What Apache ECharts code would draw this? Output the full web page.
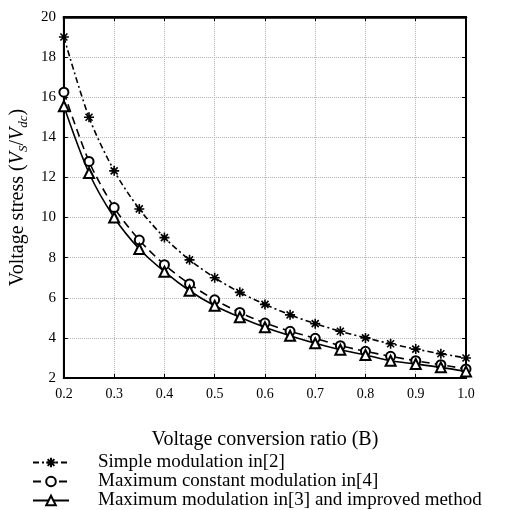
<!DOCTYPE html>
<html>
<head>
<meta charset="utf-8">
<script src="https://cdn.jsdelivr.net/npm/echarts@6/dist/echarts.min.js"></script>
<style>
html,body{margin:0;padding:0;background:#fff;}
#c{width:513px;height:510px;}
</style>
</head>
<body>
<div id="c"></div>
<script>
// Data
const xValues = [0.2, 0.25, 0.3, 0.35, 0.4, 0.45, 0.5, 0.55, 0.6, 0.65, 0.7, 0.75, 0.8, 0.85, 0.9, 0.95, 1.0];
const simpleModulation = [19.0, 15.0, 12.33, 10.43, 9.0, 7.89, 7.0, 6.27, 5.67, 5.15, 4.71, 4.33, 4.0, 3.71, 3.44, 3.21, 3.0];
const maxConstantModulation = [16.25, 12.8, 10.5, 8.88, 7.65, 6.69, 5.9, 5.27, 4.74, 4.33, 3.98, 3.61, 3.33, 3.08, 2.86, 2.66, 2.45];
const maxModulationImproved = [15.55, 12.22, 10.0, 8.43, 7.3, 6.35, 5.6, 5.03, 4.53, 4.11, 3.73, 3.41, 3.15, 2.86, 2.7, 2.53, 2.33];
const seriesNames = ['Simple modulation in[2]', 'Maximum constant modulation in[4]', 'Maximum modulation in[3] and improved method'];
const xTicks = { min: 0.2, max: 1.0, interval: 0.1 };
const yTicks = { min: 2, max: 20, interval: 2 };

function pairs(ys) { return xValues.map((x, i) => [x, ys[i]]); }

const FONT = '"Liberation Serif", "Times New Roman", serif';
const asterisk = 'path://M0,-5L0,5M-5,0L5,0M-3.5,-3.5L3.5,3.5M-3.5,3.5L3.5,-3.5';

const chart = echarts.init(document.getElementById('c'), null, { renderer: 'canvas' });

const baseX = {
  type: 'value', min: xTicks.min, max: xTicks.max, interval: xTicks.interval
};
const baseY = {
  type: 'value', min: yTicks.min, max: yTicks.max, interval: yTicks.interval
};

chart.setOption({
  animation: false,
  backgroundColor: '#fff',
  textStyle: { fontFamily: FONT, color: '#000' },
  grid: {
    left: 63, right: 47, top: 17, bottom: 132,
    show: true, borderColor: '#000', borderWidth: 2, backgroundColor: 'transparent'
  },
  legend: {
    orient: 'vertical',
    left: 27, top: 453, height: 80, width: 490,
    padding: [0, 0, 0, 5],
    itemWidth: 36, itemHeight: 12, itemGap: 0,
    textStyle: { fontFamily: FONT, fontSize: 19, color: '#000', padding: [0, 0, 0, 24], lineHeight: 18 },
    data: seriesNames
  },
  xAxis: [
    Object.assign({}, baseX, {
      position: 'bottom',
      axisLine: { show: true, onZero: false, lineStyle: { color: '#000', width: 2 } },
      axisTick: { show: true, inside: true, length: 4, lineStyle: { color: '#000' } },
      axisLabel: {
        margin: 9, fontSize: 14, color: '#000', fontFamily: FONT,
        formatter: v => v.toFixed(1)
      },
      splitLine: { show: true, lineStyle: { color: '#b5b5b5', type: [1, 1], width: 1 } },
      name: 'Voltage conversion ratio (B)',
      nameLocation: 'middle', nameGap: 52,
      nameTextStyle: { fontFamily: FONT, fontSize: 20, color: '#000' }
    }),
    Object.assign({}, baseX, {
      position: 'top',
      axisLine: { show: true, onZero: false, lineStyle: { color: '#000', width: 2.5 } },
      axisTick: { show: true, inside: true, length: 4, lineStyle: { color: '#000' } },
      axisLabel: { show: false },
      splitLine: { show: false }
    })
  ],
  yAxis: [
    Object.assign({}, baseY, {
      position: 'left',
      axisLine: { show: true, onZero: false, lineStyle: { color: '#000', width: 2 } },
      axisTick: { show: true, inside: true, length: 4, lineStyle: { color: '#000' } },
      axisLabel: { margin: 8, fontSize: 15, color: '#000', fontFamily: FONT },
      splitLine: { show: true, lineStyle: { color: '#b5b5b5', type: [1, 1], width: 1 } },
      name: '{n|Voltage stress (}{i|V}{s|S}{n|/}{i|V}{s|dc}{n|)}',
      nameLocation: 'middle', nameGap: 28, nameRotate: 90,
      nameTextStyle: {
        fontFamily: FONT, fontSize: 20, color: '#000',
        rich: {
          n: { fontFamily: FONT, fontSize: 20, color: '#000', lineHeight: 24, verticalAlign: 'middle' },
          i: { fontFamily: FONT, fontSize: 20, fontStyle: 'italic', color: '#000', lineHeight: 24, verticalAlign: 'middle' },
          s: { fontFamily: FONT, fontSize: 13, fontStyle: 'italic', color: '#000', lineHeight: 24, verticalAlign: 'bottom' }
        }
      }
    }),
    Object.assign({}, baseY, {
      position: 'right',
      axisLine: { show: true, onZero: false, lineStyle: { color: '#000', width: 2 } },
      axisTick: { show: true, inside: true, length: 4, lineStyle: { color: '#000' } },
      axisLabel: { show: false },
      splitLine: { show: false }
    })
  ],
  series: [
    {
      name: seriesNames[0], type: 'line', xAxisIndex: 0, yAxisIndex: 0,
      data: pairs(simpleModulation), smooth: 0.3,
      symbol: asterisk, symbolSize: 10, symbolKeepAspect: true,
      itemStyle: { color: '#000', borderColor: '#000', borderWidth: 1.6 },
      lineStyle: { color: '#000', width: 1.6, type: [6, 3, 2, 3] },
      z: 3
    },
    {
      name: seriesNames[1], type: 'line', xAxisIndex: 0, yAxisIndex: 0,
      data: pairs(maxConstantModulation), smooth: 0.3,
      symbol: 'emptyCircle', symbolSize: 9,
      itemStyle: { color: '#000', borderColor: '#000', borderWidth: 1.4 },
      lineStyle: { color: '#000', width: 1.6, type: [8, 5] },
      z: 4
    },
    {
      name: seriesNames[2], type: 'line', xAxisIndex: 0, yAxisIndex: 0,
      data: pairs(maxModulationImproved), smooth: 0.3,
      symbol: 'emptyTriangle', symbolSize: 10,
      itemStyle: { color: '#000', borderColor: '#000', borderWidth: 1.4 },
      lineStyle: { color: '#000', width: 1.6, type: 'solid' },
      z: 5
    }
  ]
});
</script>
</body>
</html>
